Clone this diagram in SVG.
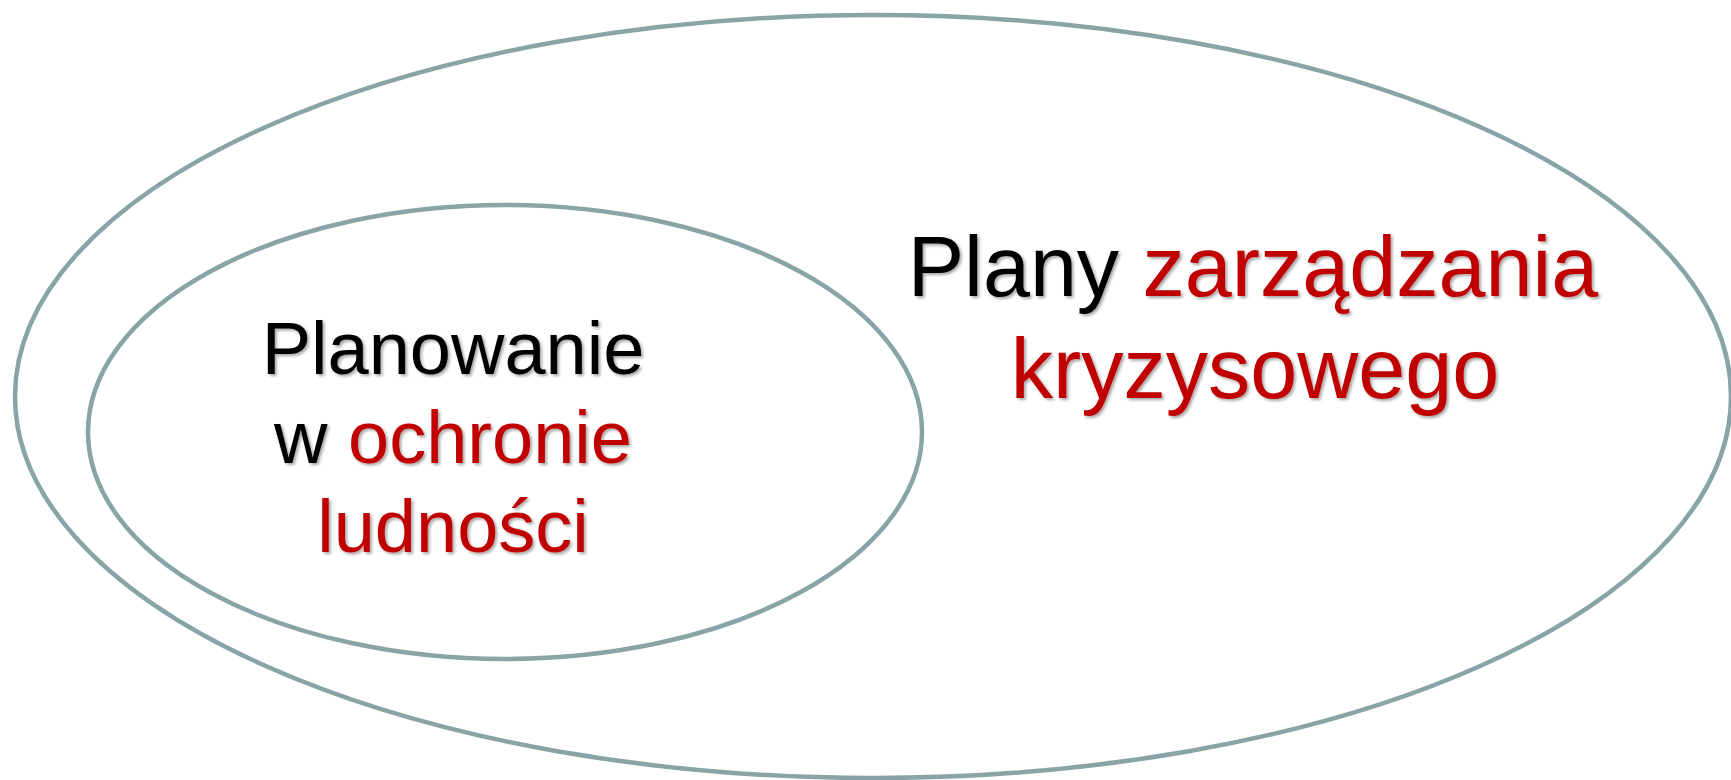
<svg xmlns="http://www.w3.org/2000/svg" width="1731" height="780" viewBox="0 0 1731 780">
<style>
.ring{fill:none;stroke:#88A4A6;stroke-width:4.5}
.t{font-family:"Liberation Sans",Arial,sans-serif;text-anchor:middle;fill:#000;filter:url(#sh)}
.r{fill:#C00000}
</style>
<defs>
<filter id="sh" x="-10%" y="-30%" width="120%" height="160%">
<feDropShadow dx="2" dy="2" stdDeviation="1.5" flood-color="#000" flood-opacity="0.35"/>
</filter>
</defs>
<rect width="1731" height="780" fill="#fff"/>
<g id="outer">
<ellipse class="ring" cx="873" cy="396.5" rx="858" ry="381.5"/>
<text class="t" x="1253" y="296" font-size="84.5">Plany <tspan class="r">zarządzania</tspan></text>
<text class="t r" x="1255" y="398" font-size="84.5">kryzysowego</text>
</g>
<g id="inner">
<ellipse class="ring" cx="505" cy="432" rx="417" ry="227"/>
<text class="t" x="453" y="374" font-size="74">Planowanie</text>
<text class="t" x="453" y="463" font-size="74">w <tspan class="r">ochronie</tspan></text>
<text class="t r" x="453" y="552" font-size="74">ludności</text>
</g>
</svg>
